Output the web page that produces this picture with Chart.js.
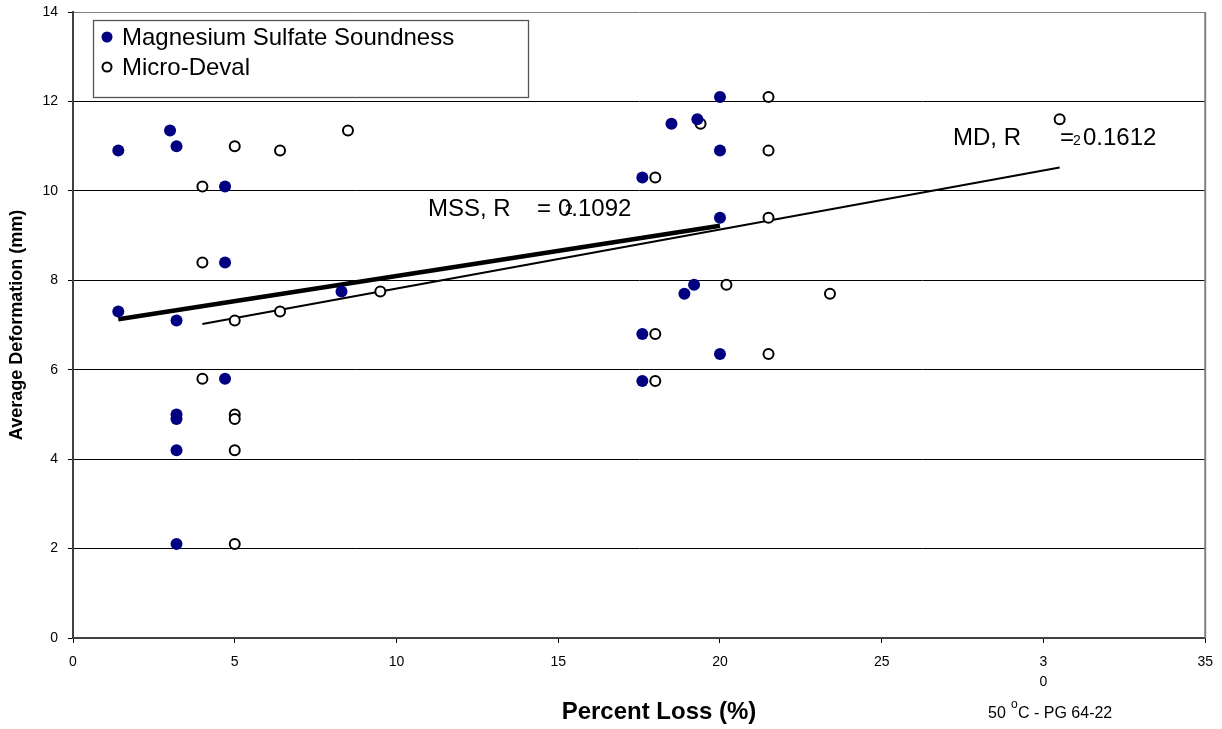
<!DOCTYPE html>
<html>
<head>
<meta charset="utf-8">
<script src="https://cdn.jsdelivr.net/npm/chart.js@4"></script>
<style>
  html, body { margin: 0; padding: 0; background: #fff; }
  #wrap { width: 1222px; height: 729px; }
</style>
</head>
<body>
<div id="wrap"><canvas id="grafico"></canvas></div>
<script>
const FONT = "Arial, 'Liberation Sans', sans-serif";

// Magnesium Sulfate Soundness (filled markers)
const mssX = [1.4, 3.0, 3.2, 4.7, 4.7, 1.4, 3.2, 4.7, 3.2, 3.2, 3.2, 3.2, 8.3, 20.0, 18.5, 19.3, 20.0, 17.6, 20.0, 19.2, 18.9, 17.6, 20.0, 17.6];
const mssY = [10.9, 11.35, 11.0, 10.1, 8.4, 7.3, 7.1, 5.8, 5.0, 4.9, 4.2, 2.1, 7.75, 12.1, 11.5, 11.6, 10.9, 10.3, 9.4, 7.9, 7.7, 6.8, 6.35, 5.75];

// Micro-Deval (open markers)
const mdX = [5.0, 6.4, 8.5, 4.0, 4.0, 9.5, 6.4, 5.0, 4.0, 5.0, 5.0, 5.0, 5.0, 21.5, 19.4, 21.5, 18.0, 21.5, 20.2, 23.4, 18.0, 21.5, 18.0, 30.5];
const mdY = [11.0, 10.9, 11.35, 10.1, 8.4, 7.75, 7.3, 7.1, 5.8, 5.0, 4.9, 4.2, 2.1, 12.1, 11.5, 10.9, 10.3, 9.4, 7.9, 7.7, 6.8, 6.35, 5.75, 11.6];

// trendline end points
const mssTrendX = [1.4, 20.0];
const mssTrendY = [7.13, 9.22];
const mdTrendX = [4.0, 30.5];
const mdTrendY = [7.02, 10.52];

const xTickLabels = ["0", "5", "10", "15", "20", "25", ["3", "0"], "35"];
const yTickLabels = ["0", "2", "4", "6", "8", "10", "12", "14"];

const toPoints = (xs, ys) => xs.map((x, i) => ({ x: x, y: ys[i] }));

// legend box, R² labels, footnote and x title
const extras = {
  id: "extras",
  beforeDatasetsDraw(chart) {
    const { ctx, chartArea: a } = chart;
    ctx.save();
    ctx.strokeStyle = "#808080";
    ctx.lineWidth = 2;
    ctx.beginPath();
    ctx.moveTo(a.right, a.top);
    ctx.lineTo(a.right, a.bottom);
    ctx.stroke();
    ctx.restore();
  },
  afterDraw(chart) {
    const ctx = chart.ctx;
    const ds = chart.data.datasets;
    ctx.save();

    // legend
    ctx.fillStyle = "#fff";
    ctx.fillRect(93, 20, 435, 77);
    ctx.strokeStyle = "#555";
    ctx.lineWidth = 1.3;
    ctx.strokeRect(93.5, 20.5, 435, 77);

    ctx.font = "24px " + FONT;
    ctx.textBaseline = "middle";
    ctx.textAlign = "left";
    ctx.fillStyle = "#000080";
    ctx.beginPath();
    ctx.arc(107, 37, 5.5, 0, Math.PI * 2);
    ctx.fill();
    ctx.fillStyle = "#000";
    ctx.fillText(ds[0].label, 122, 38);

    ctx.strokeStyle = "#000";
    ctx.lineWidth = 2;
    ctx.fillStyle = "#fff";
    ctx.beginPath();
    ctx.arc(107, 67, 4.5, 0, Math.PI * 2);
    ctx.fill();
    ctx.stroke();
    ctx.fillStyle = "#000";
    ctx.fillText(ds[1].label, 122, 68);

    // R² labels
    ctx.textBaseline = "alphabetic";
    ctx.font = "24px " + FONT;
    ctx.fillText("MSS, R", 428, 216);
    ctx.fillText("=", 537, 216);
    ctx.fillText("0.1092", 558, 216);
    ctx.font = "14px " + FONT;
    ctx.fillText("2", 565, 214);

    ctx.font = "24px " + FONT;
    ctx.fillText("MD, R", 953, 145);
    ctx.fillText("=", 1060, 145);
    ctx.fillText("0.1612", 1083, 145);
    ctx.font = "14px " + FONT;
    ctx.fillText("2", 1073, 145);

    // x axis title
    ctx.font = "bold 24px " + FONT;
    ctx.textAlign = "center";
    ctx.fillText("Percent Loss (%)", 659, 719);

    // footnote
    ctx.textAlign = "left";
    ctx.font = "16px " + FONT;
    ctx.fillText("50", 988, 718);
    ctx.font = "12px " + FONT;
    ctx.fillText("o", 1011, 708);
    ctx.font = "16px " + FONT;
    ctx.fillText("C - PG 64-22", 1018, 718);

    ctx.restore();
  }
};

const chart = new Chart(document.getElementById("grafico"), {
  type: "scatter",
  data: {
    datasets: [
      {
        label: "Magnesium Sulfate Soundness",
        data: toPoints(mssX, mssY),
        pointRadius: 6,
        pointBackgroundColor: "#000080",
        pointBorderColor: "#000080",
        pointBorderWidth: 0
      },
      {
        label: "Micro-Deval",
        data: toPoints(mdX, mdY),
        pointRadius: 5,
        pointBackgroundColor: "#fff",
        pointBorderColor: "#000",
        pointBorderWidth: 2
      },
      {
        label: "MSS trend",
        data: toPoints(mssTrendX, mssTrendY),
        showLine: true,
        borderColor: "#000",
        borderWidth: 4.5,
        pointRadius: 0
      },
      {
        label: "MD trend",
        data: toPoints(mdTrendX, mdTrendY),
        showLine: true,
        borderColor: "#000",
        borderWidth: 2,
        pointRadius: 0
      }
    ]
  },
  options: {
    responsive: true,
    maintainAspectRatio: false,
    animation: false,
    layout: { autoPadding: false, padding: { top: 12, right: 16, left: 0, bottom: 0 } },
    plugins: {
      legend: { display: false },
      tooltip: { enabled: false }
    },
    scales: {
      x: {
        type: "linear",
        min: 0,
        max: 35,
        afterFit: (s) => { s.height = 91; },
        ticks: {
          stepSize: 5,
          padding: 9,
          color: "#000",
          font: { family: FONT, size: 14, lineHeight: 1.45 },
          maxRotation: 0,
          callback: (v, i) => xTickLabels[i]
        },
        grid: { drawOnChartArea: false, drawTicks: true, tickLength: 5, tickColor: "#000" },
        border: { color: "#404040", width: 2 }
      },
      y: {
        min: 0,
        max: 14,
        afterFit: (s) => { s.width = 73; },
        ticks: {
          stepSize: 2,
          padding: 10,
          color: "#000",
          // small lineHeight keeps the top padding at 12px; single-line labels stay centred
          font: { family: FONT, size: 14, lineHeight: 0.2 },
          callback: (v, i) => yTickLabels[i]
        },
        grid: {
          color: (c) => (c.tick && c.tick.value === 14 ? "#808080" : "#000"),
          lineWidth: 1,
          drawTicks: true,
          tickLength: 5,
          tickColor: "#000"
        },
        border: { color: "#404040", width: 2 },
        title: {
          display: true,
          text: "Average Deformation (mm)",
          color: "#000",
          font: { family: FONT, size: 18, weight: "bold" },
          padding: { top: 6 }
        }
      }
    }
  },
  plugins: [extras]
});
</script>
</body>
</html>
